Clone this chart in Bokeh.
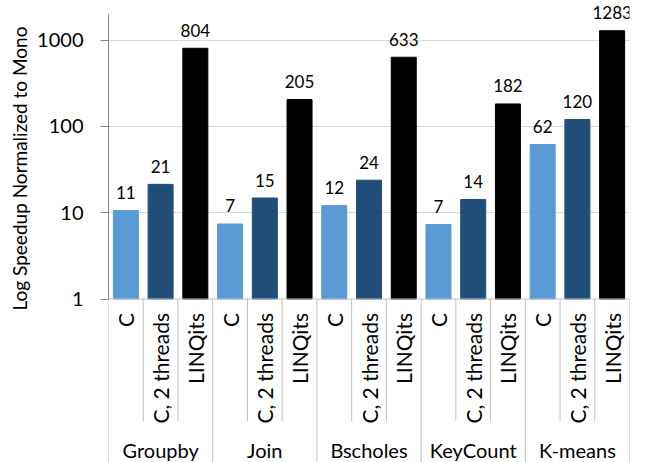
import math
from bokeh.plotting import figure
from bokeh.models import (ColumnDataSource, FactorRange, Range1d, FixedTicker,
                          PrintfTickFormatter, Span, Title)
from bokeh.core.properties import value
from bokeh.embed import file_html
from bokeh.resources import INLINE

# ---- data ----
groups = ["Groupby", "Join", "Bscholes", "KeyCount", "K-means"]
variants = ["C", "C, 2 threads", "LINQits"]
c_vals = [10.6, 7.4, 12.1, 7.3, 61.6]
c2_vals = [21.3, 14.8, 23.8, 14.2, 120]
linq_vals = [804, 205, 633, 182, 1283]
colors = ["#5B9BD5", "#1F4E79", "#000000"]
y_ticks = [1, 10, 100, 1000]
y_title = "Log Speedup Normalized to Mono"

FONT = "Lato"
series = [c_vals, c2_vals, linq_vals]

factors = [(g, v) for g in groups for v in variants]
vals = [series[j][i] for i in range(len(groups)) for j in range(len(variants))]
cols = [colors[j] for i in range(len(groups)) for j in range(len(variants))]
labels = [str(int(math.floor(v + 0.5))) for v in vals]

src = ColumnDataSource(dict(x=factors, top=vals, color=cols, label=labels,
                            base=[y_ticks[0]] * len(factors),
                            sub=[f[1] for f in factors]))

# layout geometry (pixels): y=1 at 298.5, one decade = 86.3 px
decade = 86.3
y_one = 298.5
fig_w, fig_h = 646, 462
y_lo = 10 ** (-(fig_h - y_one) / decade)
y_hi = 10 ** (y_one / decade)
axis_top = 10 ** ((y_one - 14) / decade)

x_range = FactorRange(factors=factors, factor_padding=0, group_padding=0,
                      range_padding=0)

p = figure(width=fig_w, height=fig_h, x_range=x_range,
           y_range=Range1d(y_lo, y_hi), y_axis_type="log",
           x_axis_location=None, output_backend="svg", toolbar_location=None,
           min_border_left=108, min_border_right=17, min_border_top=0,
           min_border_bottom=0)
p.outline_line_color = None
p.background_fill_color = "white"
p.xgrid.visible = False

# y axis
ax = p.yaxis[0]
ax.ticker = FixedTicker(ticks=y_ticks)
ax.formatter = PrintfTickFormatter(format="%d")
ax.bounds = (y_ticks[0], axis_top)
ax.axis_line_color = "#868686"
ax.major_tick_line_color = "#868686"
ax.minor_tick_line_color = None
ax.major_tick_out = 8
ax.major_tick_in = 0
ax.major_label_standoff = 17
ax.major_label_text_font = FONT
ax.major_label_text_font_size = "20px"
ax.major_label_text_color = "black"

# y axis title as a side title, aligned near the top of the axis
p.add_layout(Title(text=y_title, align="right", offset=26,
                   text_font=FONT, text_font_size="19px",
                   text_font_style="normal", text_color="black",
                   vertical_align="middle", standoff=5), "left")

p.ygrid.ticker = FixedTicker(ticks=y_ticks[1:])
p.ygrid.grid_line_color = "#D9D9D9"
p.ygrid.grid_line_width = 1

# bars
p.vbar(x="x", top="top", bottom="base", width=0.72, fill_color="color",
       line_color="color", source=src)

# baseline
p.add_layout(Span(location=y_ticks[0], dimension="width",
                  line_color="#BFBFBF", line_width=1))

# value labels
p.text(x="x", y="top", text="label", source=src, text_align="center",
       text_baseline="alphabetic", y_offset=-18,
       text_font=value(FONT), text_font_size="17px", text_color="black")

# category labels (rotated)
p.text(x="x", y="base", text="sub", source=src, text_align="right",
       text_baseline="middle", angle=math.pi / 2, y_offset=14,
       text_font=value(FONT), text_font_size="21px", text_color="black")

# group labels
gsrc = ColumnDataSource(dict(x=[(g, variants[1]) for g in groups],
                             y=[y_ticks[0]] * len(groups), t=groups))
p.text(x="x", y="y", text="t", source=gsrc, text_align="center",
       text_baseline="top", y_offset=139,
       text_font=value(FONT), text_font_size="20px", text_color="black")

# separators
sub_x = [(g, v, 0.5) for g in groups for v in variants[:-1]]
grp_x = [(g, variants[0], -0.5) for g in groups] + [(groups[-1], variants[-1], 0.5)]
p.ray(x=sub_x, y=[y_ticks[0]] * len(sub_x), length=122, angle=-math.pi / 2,
      length_units="screen", line_color="#BFBFBF", line_width=1)
p.ray(x=grp_x, y=[y_ticks[0]] * len(grp_x), length=300, angle=-math.pi / 2,
      length_units="screen", line_color="#BFBFBF", line_width=1)

open("out.html", "w").write(file_html(p, INLINE))
